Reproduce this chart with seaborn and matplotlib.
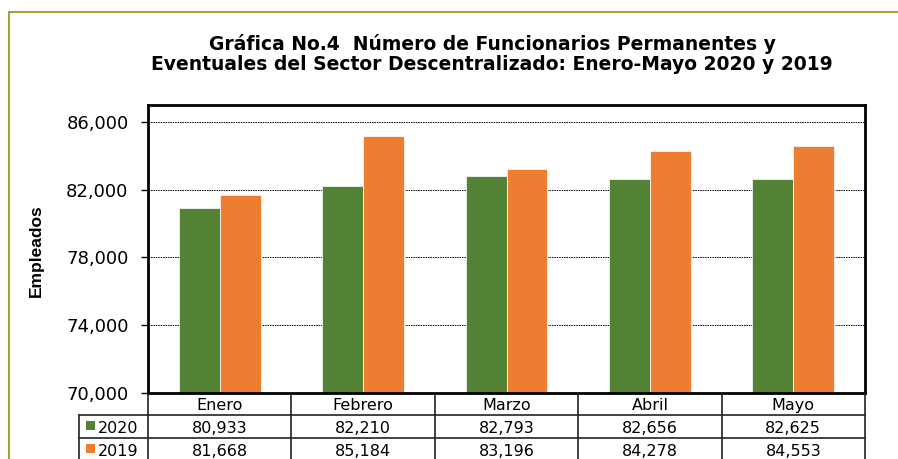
import seaborn as sns
import matplotlib.pyplot as plt
import matplotlib.transforms as mtransforms
from matplotlib.lines import Line2D
from matplotlib.patches import Rectangle
import pandas as pd

months = ["Enero", "Febrero", "Marzo", "Abril", "Mayo"]
years = ["2020", "2019"]
values_2020 = [80933, 82210, 82793, 82656, 82625]
values_2019 = [81668, 85184, 83196, 84278, 84553]
yticks = [70000, 74000, 78000, 82000, 86000]
colors = {"2020": "#548235", "2019": "#ED7D31"}

title = ("Gráfica No.4  Número de Funcionarios Permanentes y\n"
         "Eventuales del Sector Descentralizado: Enero-Mayo 2020 y 2019")

df = pd.DataFrame({
    "mes": months * 2,
    "anio": ["2020"] * len(months) + ["2019"] * len(months),
    "empleados": values_2020 + values_2019,
})

sns.set_style("white")
plt.rcParams["font.family"] = ["DejaVu Sans"]
plt.rcParams["text.color"] = "black"
plt.rcParams["ytick.color"] = "black"
plt.rcParams["ytick.labelcolor"] = "black"

W, H = 898, 459
fig = plt.figure(figsize=(W / 100, H / 100), dpi=100)


def fx(x):
    return x / W


def fy(y):
    return 1 - y / H


ax = fig.add_axes([fx(148), fy(393), fx(865) - fx(148), fy(105) - fy(393)])
sns.barplot(data=df, x="mes", y="empleados", hue="anio", hue_order=years,
            palette=colors, saturation=1, width=0.57, ax=ax, legend=False,
            edgecolor="#f4f4f4", linewidth=0.6)

ax.set_ylim(70000, 87000)
ax.set_xlim(-0.5, len(months) - 0.5)
ax.set_yticks(yticks)
ax.set_yticklabels([f"{v:,}" for v in yticks], fontsize=13, color="black")
ax.tick_params(axis="y", length=5, width=1, color="black", pad=9, left=True)
ax.set_xticks([])
ax.set_xlabel("")
ax.set_ylabel("")
for s in ax.spines.values():
    s.set_linewidth(2)
    s.set_color("black")
ax.grid(axis="y", linestyle=(0, (1.5, 1)), color="black", linewidth=0.7)
ax.set_axisbelow(True)

fig.text(fx(36), fy(251), "Empleados", rotation=90, ha="center", va="center",
         fontsize=12.5, fontweight="bold", family="Liberation Sans", color="black")
fig.text(fx(492), fy(54), title, ha="center", va="center", fontsize=13.5,
         fontweight="bold", linespacing=1.0, color="black")

# data table under the axis
trans = mtransforms.blended_transform_factory(ax.transData, fig.transFigure)
lc = "#222222"
n = len(months)
for i in range(n + 1):
    fig.add_artist(Line2D([i - 0.5, i - 0.5], [fy(393), fy(459)], transform=trans,
                          color=lc, linewidth=1.2))
fig.add_artist(Line2D([-0.5, n - 0.5], [fy(415), fy(415)], transform=trans,
                      color=lc, linewidth=1.2))
fig.add_artist(Line2D([fx(79), fx(865)], [fy(438), fy(438)], transform=fig.transFigure,
                      color=lc, linewidth=1.2))
fig.add_artist(Line2D([fx(79), fx(148)], [fy(415), fy(415)], transform=fig.transFigure,
                      color=lc, linewidth=1.2))
fig.add_artist(Line2D([fx(79), fx(79)], [fy(415), fy(459)], transform=fig.transFigure,
                      color=lc, linewidth=1.2))

for i, m in enumerate(months):
    fig.text(i, fy(410), m, transform=trans, ha="center", va="baseline", fontsize=11.5)
    fig.text(i, fy(433), f"{values_2020[i]:,}", transform=trans, ha="center",
             va="baseline", fontsize=11.5)
    fig.text(i, fy(456), f"{values_2019[i]:,}", transform=trans, ha="center",
             va="baseline", fontsize=11.5)

for yr, base in zip(years, [433, 456]):
    fig.add_artist(Rectangle((fx(86), fy(base - 3)), fx(9), fy(base - 11.5) - fy(base - 3),
                             transform=fig.transFigure, facecolor=colors[yr],
                             edgecolor="none"))
    fig.text(fx(98), fy(base), yr, ha="left", va="baseline", fontsize=11.5)

# outer chart frame (olive)
fig.add_artist(Line2D([fx(9), fx(898)], [fy(12), fy(12)], transform=fig.transFigure,
                      color="#a3a33a", linewidth=1.5))
fig.add_artist(Line2D([fx(9), fx(9)], [fy(12), fy(459)], transform=fig.transFigure,
                      color="#a3a33a", linewidth=1.5))

fig.savefig("out.png", dpi=100)
